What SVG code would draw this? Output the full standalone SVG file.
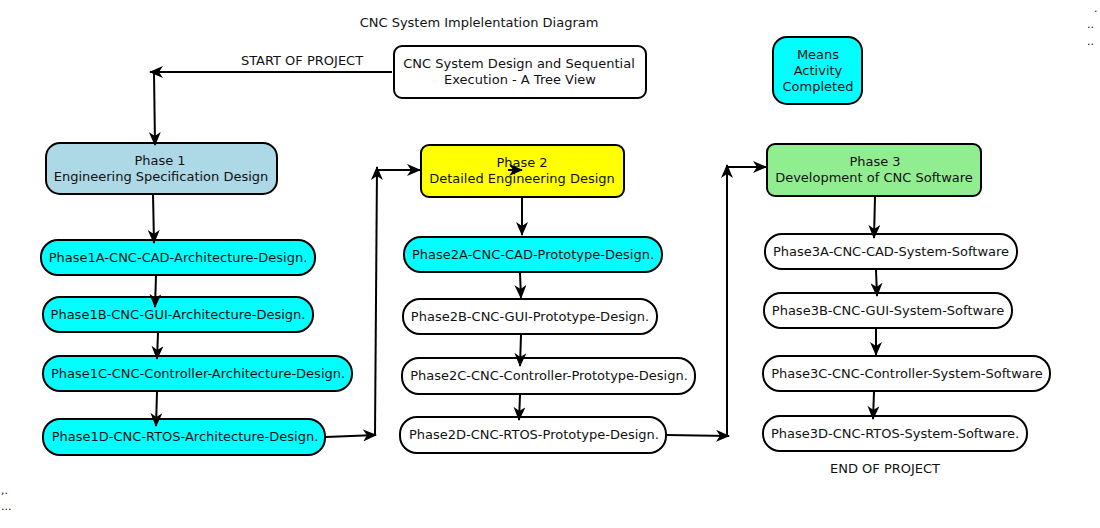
<svg xmlns="http://www.w3.org/2000/svg" width="1100" height="528" viewBox="0 0 1100 528">
<style>
text{font-family:"DejaVu Sans",sans-serif;font-size:13px;fill:#111;text-anchor:middle}
.b{stroke:#000;stroke-width:2}
.c{fill:#00ffff}
.w{fill:#fff}
.ln{fill:none;stroke:#000;stroke-width:2;marker-end:url(#ah)}
.sm{font-size:11px;text-anchor:start}
</style>
<defs>
<marker id="ah" viewBox="0 0 14 12" refX="13" refY="6" markerWidth="14" markerHeight="12" markerUnits="userSpaceOnUse" orient="auto">
<path d="M0,0 L14,6 L0,12 L4,6 z" fill="#000"/>
</marker>
</defs>
<rect width="1100" height="528" fill="#fff"/>
<text x="479" y="27">CNC System Implelentation Diagram</text>
<text class="sm" x="1094" y="12">.</text>
<text class="sm" x="1087" y="28">..</text>
<text class="sm" x="1087" y="45">..</text>
<text class="sm" x="1" y="494">,.</text>
<text class="sm" x="1" y="510">...</text>

<g id="tree-view">
<rect class="b w" x="394" y="46" width="252" height="52" rx="8"/>
<text x="519" y="68">CNC System Design and Sequential</text>
<text x="520" y="84">Execution - A Tree View</text>
</g>
<g id="legend">
<rect class="b c" x="773" y="37" width="89" height="67" rx="14"/>
<text x="818" y="59">Means</text>
<text x="818" y="75">Activity</text>
<text x="818" y="91">Completed</text>
</g>

<g id="phase1">
<rect class="b" fill="#add8e6" x="46" y="143" width="231" height="51" rx="14"/>
<text x="160" y="165">Phase 1</text>
<text x="161" y="181">Engineering Specification Design</text>
</g>
<g id="phase1a"><rect class="b c" x="41" y="240" width="274" height="35" rx="17"/><text x="178" y="262">Phase1A-CNC-CAD-Architecture-Design.</text></g>
<g id="phase1b"><rect class="b c" x="43" y="297" width="270" height="35" rx="17"/><text x="178" y="319">Phase1B-CNC-GUI-Architecture-Design.</text></g>
<g id="phase1c"><rect class="b c" x="43" y="356" width="309" height="35" rx="17"/><text x="198" y="378">Phase1C-CNC-Controller-Architecture-Design.</text></g>
<g id="phase1d"><rect class="b c" x="43" y="419" width="282" height="36" rx="17"/><text x="185" y="441">Phase1D-CNC-RTOS-Architecture-Design.</text></g>

<g id="phase2">
<rect class="b" fill="#ffff00" x="421" y="145" width="203" height="52" rx="8"/>
<text x="522" y="167">Phase 2</text>
<text x="522" y="183">Detailed Engineering Design</text>
</g>
<g id="phase2a"><rect class="b c" x="404" y="237" width="258" height="35" rx="17"/><text x="533" y="259">Phase2A-CNC-CAD-Prototype-Design.</text></g>
<g id="phase2b"><rect class="b w" x="403" y="299" width="254" height="35" rx="17"/><text x="530" y="321">Phase2B-CNC-GUI-Prototype-Design.</text></g>
<g id="phase2c"><rect class="b w" x="402" y="358" width="293" height="36" rx="17"/><text x="549" y="380">Phase2C-CNC-Controller-Prototype-Design.</text></g>
<g id="phase2d"><rect class="b w" x="400" y="417" width="266" height="36" rx="17"/><text x="534" y="439">Phase2D-CNC-RTOS-Prototype-Design.</text></g>

<g id="phase3">
<rect class="b" fill="#90ee90" x="767" y="144" width="214" height="52" rx="8"/>
<text x="875" y="166">Phase 3</text>
<text x="874" y="182">Development of CNC Software</text>
</g>
<g id="phase3a"><rect class="b w" x="765" y="234" width="252" height="35" rx="17"/><text x="891" y="256">Phase3A-CNC-CAD-System-Software</text></g>
<g id="phase3b"><rect class="b w" x="764" y="293" width="248" height="35" rx="17"/><text x="888" y="315">Phase3B-CNC-GUI-System-Software</text></g>
<g id="phase3c"><rect class="b w" x="763" y="356" width="287" height="35" rx="17"/><text x="907" y="378">Phase3C-CNC-Controller-System-Software</text></g>
<g id="phase3d"><rect class="b w" x="763" y="416" width="264" height="35" rx="17"/><text x="895" y="438">Phase3D-CNC-RTOS-System-Software.</text></g>

<g id="connectors">
<path class="ln" d="M392,72 L150,72"/>
<path class="ln" d="M154,72 L155,145"/>
<path class="ln" d="M153,194 L154,243"/>
<path class="ln" d="M156,276 L155,307"/>
<path class="ln" d="M158,333 L157,359"/>
<path class="ln" d="M157,392 L156,426"/>
<path class="ln" d="M326,437 L376,435"/>
<path class="ln" d="M375,435 L377,167"/>
<path class="ln" d="M377,170 L420,170"/>
<path class="ln" d="M508,170 L522,170"/>
<path class="ln" d="M522,198 L522,235"/>
<path class="ln" d="M520,273 L521,298"/>
<path class="ln" d="M521,335 L520,366"/>
<path class="ln" d="M520,395 L519,420"/>
<path class="ln" d="M667,435 L729,436"/>
<path class="ln" d="M727,436 L727,165"/>
<path class="ln" d="M727,167 L766,167"/>
<path class="ln" d="M875,197 L874,238"/>
<path class="ln" d="M876,270 L877,296"/>
<path class="ln" d="M876,329 L876,355"/>
<path class="ln" d="M874,392 L873,419"/>
<text x="302" y="65">START OF PROJECT</text>
<text x="885" y="473">END OF PROJECT</text>
</g>
</svg>
